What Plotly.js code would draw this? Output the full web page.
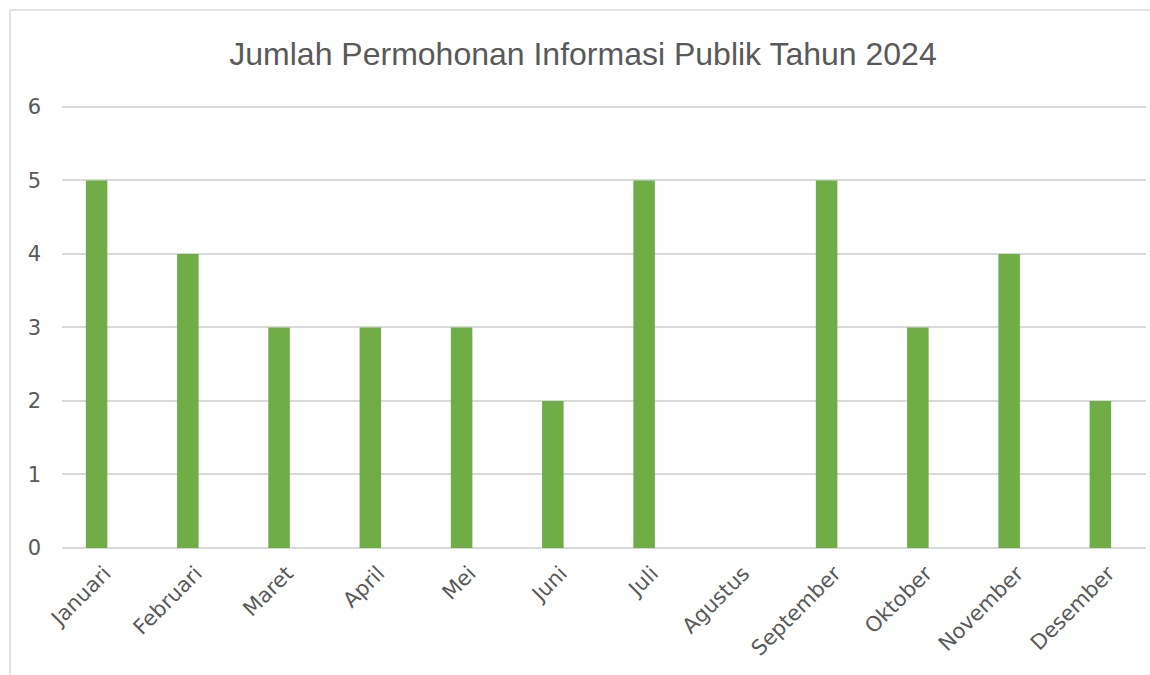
<!DOCTYPE html>
<html>
<head>
<meta charset="utf-8">
<script src="https://cdn.plot.ly/plotly-3.0.1.min.js"></script>
<style>html,body{margin:0;padding:0;background:#fff;}#chart{width:1150px;height:675px;}</style>
</head>
<body>
<div id="chart"></div>
<script>
const months = ["Januari","Februari","Maret","April","Mei","Juni","Juli","Agustus","September","Oktober","November","Desember"];
const requests = [5,4,3,3,3,2,5,0,5,3,4,2];
const yTicks = [0,1,2,3,4,5,6];

const L = 62, R = 4, T = 104, B = 127, W = 1150, H = 675;
const pw = W - L - R, ph = H - T - B;
const px = v => (v - L) / pw;
const py = v => (H - B - v) / ph;

Plotly.newPlot('chart', [{
  type: 'bar',
  x: months,
  y: requests,
  marker: {color: '#70AD47'},
  hoverinfo: 'x+y'
}], {
  width: W, height: H,
  margin: {l: L, r: R, t: T, b: B},
  paper_bgcolor: '#ffffff',
  plot_bgcolor: '#ffffff',
  bargap: 0.764,
  showlegend: false,
  title: {
    text: 'Jumlah Permohonan Informasi Publik Tahun 2024',
    font: {family: 'Liberation Sans, Arial, sans-serif', size: 32, color: '#595959'},
    x: 583/W, xanchor: 'center', xref: 'container',
    y: 1 - 54/H, yanchor: 'middle', yref: 'container'
  },
  xaxis: {
    type: 'category',
    range: [-0.379, 11.5],
    tickangle: -45,
    tickfont: {family: 'DejaVu Sans, sans-serif', size: 21, color: '#595959'},
    showgrid: false, showline: false, ticks: '', zeroline: false,
    ticklabelstandoff: 8,
    ticklabelshift: 8,
    fixedrange: true
  },
  yaxis: {
    range: [0, 6.04],
    tickvals: yTicks,
    ticktext: yTicks.map(String),
    tickfont: {family: 'DejaVu Sans, sans-serif', size: 21, color: '#595959'},
    showgrid: true, gridcolor: '#d9d9d9', gridwidth: 1.5,
    zeroline: true, zerolinecolor: '#d9d9d9', zerolinewidth: 1.5,
    showline: false, ticks: '', ticklabelstandoff: 20,
    fixedrange: true
  },
  shapes: [
    {type: 'line', xref: 'paper', yref: 'paper', x0: px(10), x1: px(1150), y0: py(10), y1: py(10), line: {color: '#d9d9d9', width: 1.5}, layer: 'below'},
    {type: 'line', xref: 'paper', yref: 'paper', x0: px(10), x1: px(10), y0: py(10), y1: py(675), line: {color: '#d9d9d9', width: 1.5}, layer: 'below'}
  ]
}, {displayModeBar: false});
</script>
</body>
</html>
